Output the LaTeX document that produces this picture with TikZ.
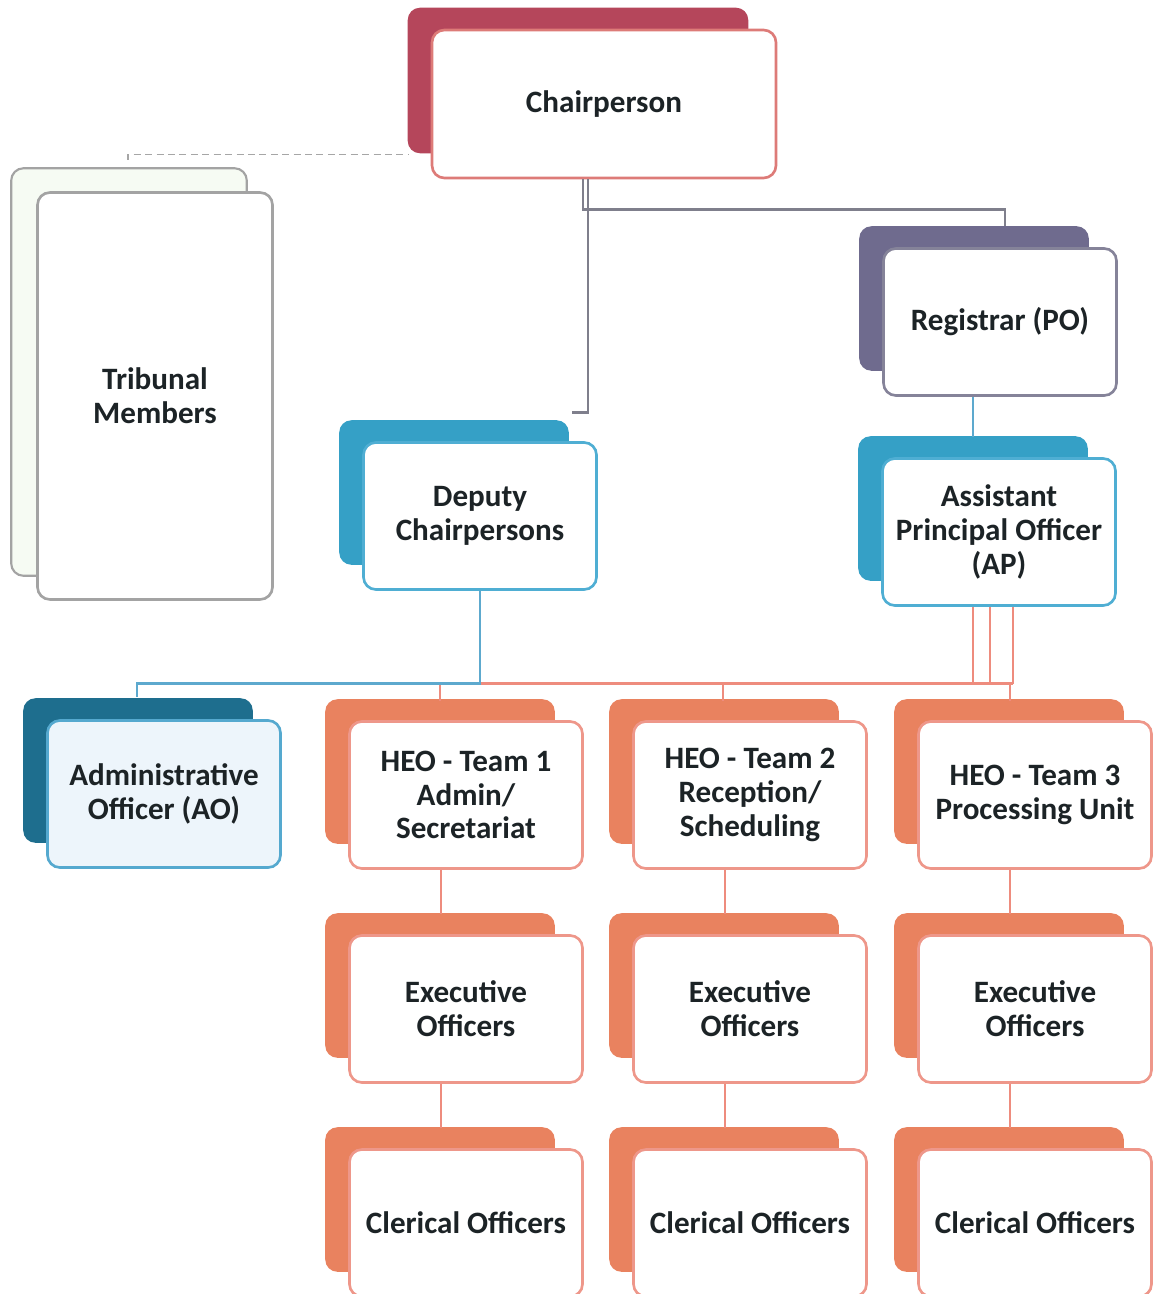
\documentclass[tikz,border=0pt]{standalone}
\usepackage{fontspec}
\setmainfont{Carlito}
\usetikzlibrary{calc,backgrounds}
\definecolor{inkdark}{HTML}{1C2326}
\definecolor{chairback}{HTML}{B5465B}
\definecolor{chairline}{HTML}{DD7B78}
\definecolor{regback}{HTML}{6F6B8E}
\definecolor{regline}{HTML}{858399}
\definecolor{tealback}{HTML}{35A0C6}
\definecolor{tealline}{HTML}{4FAED3}
\definecolor{aoback}{HTML}{1E6E8E}
\definecolor{aoline}{HTML}{55A9CF}
\definecolor{aofill}{HTML}{EDF5FB}
\definecolor{teamback}{HTML}{E9825F}
\definecolor{teamline}{HTML}{EE978A}
\definecolor{trbback}{HTML}{F6FBF3}
\definecolor{trbline}{HTML}{A3A3A3}
\definecolor{greyline}{HTML}{7F7F8C}
\definecolor{blueline}{HTML}{5DA9CE}
\definecolor{orangeline}{HTML}{EE8C7E}
\tikzset{
  card/.style={draw, fill=white, rounded corners=7pt, line width=1.5pt, align=center,
    text=inkdark, font=\fontsize{17.7}{19.2}\selectfont\bfseries, inner sep=0pt,
    minimum width=4.66cm, minimum height=2.94cm},
  link/.style={line width=1.6pt}
}
\begin{document}
\begin{tikzpicture}[x=0.02cm,y=-0.02cm]
    \useasboundingbox (0,0) rectangle (1153,1294);
    % Top of the chart: chair, members, deputies and the registrar line.
    \node[card,draw=chairline,minimum width=6.88cm,minimum height=2.96cm] (chair) at (604,104) {Chairperson};
    \node[card,draw=trbline,minimum width=4.7cm,minimum height=8.14cm] (tribunal) at (155,396) {Tribunal\\Members};
    \node[card,draw=tealline] (deputy) at (480,516) {Deputy\\Chairpersons};
    \node[card,draw=regline] (registrar) at (1000,322) {Registrar (PO)};
    \node[card,draw=tealline] (apo) at (999,532) {Assistant\\Principal Officer\\(AP)};
    \node[card,draw=aoline,fill=aofill] (aofficer) at (164,794) {Administrative\\Officer (AO)};
    % The three teams, each one a column of three cards.
    \foreach \i/\xx/\heo in {1/466/{HEO - Team 1\\Admin/\\Secretariat},
                             2/750/{HEO - Team 2\\Reception/\\Scheduling},
                             3/1035/{HEO - Team 3\\Processing Unit}} {
        \node[card,draw=teamline] (heo\i) at (\xx,795) {\heo};
        \node[card,draw=teamline] (exec\i) at (\xx,1009) {Executive\\Officers};
        \node[card,draw=teamline] (clerk\i) at (\xx,1223) {Clerical Officers};
    }
    % Coloured cards behind the white ones.
    \begin{scope}[on background layer]
        \foreach \n/\cc in {chair/chairback,deputy/tealback,registrar/regback,
                            apo/tealback,aofficer/aoback} {
            \fill[\cc,rounded corners=7pt] ($(\n.north west)+(-23,-21)$)
                rectangle ($(\n.south east)+(-29,-26)$);
        }
        \foreach \n in {heo,exec,clerk} {
            \foreach \i in {1,2,3} {
                \fill[teamback,rounded corners=7pt] ($(\n\i.north west)+(-23,-21)$)
                    rectangle ($(\n\i.south east)+(-29,-26)$);
            }
        }
        \filldraw[fill=trbback,draw=trbline,line width=1.2pt,rounded corners=7pt]
            ($(tribunal.north west)+(-25,-23)$) rectangle ($(tribunal.south east)+(-27,-25)$);
    \end{scope}
    % Links from the chair.
    \coordinate (tick) at (128,160);
    \draw[dashed,dash pattern=on 4pt off 2.5pt,gray!70,line width=.6pt]
        (tick) |- ($(chair.south west)+(-22,-25)$);
    \draw[link,greyline] ($(chair.south)+(-21,0)$) -- ++(0,30) -| ($(registrar.north)+(5,-21)$);
    \draw[link,greyline] ($(chair.south)+(-16,0)$) |- ($(deputy.north)+(92,-29)$);
    \draw[link,blueline] ($(registrar.south)+(-27,0)$) -- ($(apo.north)+(-26,-20)$);
    % The bus under the deputies and the AP.
    \foreach \dx in {-26,-9,14} {
        \draw[link,orangeline] ($(apo.south)+(\dx,0)$) -- ++(0,77);
    }
    \draw[link,orangeline] ($(apo.south)+(14,77)$) -| ($(heo1.north)+(-26,-19)$);
    \foreach \i/\dx in {2/-27,3/-25} {
        \draw[link,orangeline] ($(heo\i.north)+(\dx,-38)$) -- ($(heo\i.north)+(\dx,-19)$);
    }
    \draw[link,blueline] (deputy.south) -- ++(0,93) -| ($(aofficer.north)+(-27,-22)$);
    % Down each team column.
    \foreach \i in {1,2,3} {
        \draw[link,orangeline] ($(heo\i.south)+(-25,0)$) -- ($(exec\i.north)+(-25,-20)$);
        \draw[link,orangeline] ($(exec\i.south)+(-25,0)$) -- ($(clerk\i.north)+(-25,-20)$);
    }
\end{tikzpicture}
\end{document}
